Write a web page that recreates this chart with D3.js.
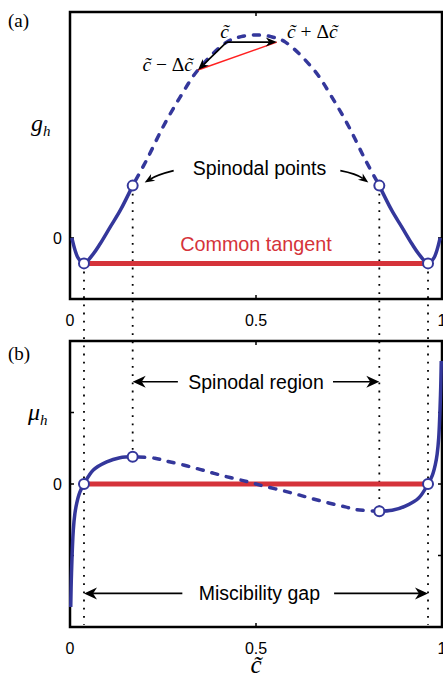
<!DOCTYPE html>
<html><head><meta charset="utf-8">
<script src="https://cdn.jsdelivr.net/npm/d3@7"></script>
<style>body{margin:0;background:#fff}svg{display:block}</style>
</head><body>
<script>
// composition axis ticks
const cTicks = [0, 0.5, 1];
const cTickLabels = ["0", "0.5", "1"];

// homogeneous free energy g_h(c)
const gC = [0.005, 0.0134, 0.0223, 0.0376, 0.0627, 0.0806, 0.1075, 0.135, 0.1685, 0.206, 0.25, 0.296, 0.344, 0.421, 0.46, 0.5,
            0.54, 0.579, 0.656, 0.704, 0.75, 0.794, 0.8315, 0.865, 0.8925, 0.9194, 0.9373, 0.9624, 0.9777, 0.9866, 0.995];
const gVal = [0, -0.059, -0.1, -0.125, -0.078, -0.03, 0.052, 0.135, 0.257, 0.383, 0.545, 0.692, 0.825, 0.962, 0.989, 0.997,
              0.989, 0.962, 0.825, 0.692, 0.545, 0.383, 0.257, 0.135, 0.052, -0.03, -0.078, -0.125, -0.1, -0.059, 0];

// chemical potential mu_h(c)
const muC = [0.002, 0.004, 0.0089, 0.013, 0.018, 0.026, 0.0376, 0.0626, 0.0987, 0.134, 0.1685, 0.228, 0.26, 0.305, 0.349,
             0.39, 0.43, 0.475, 0.5, 0.525, 0.57, 0.61, 0.651, 0.695, 0.74, 0.772, 0.8315, 0.866, 0.9013, 0.9374, 0.9624,
             0.974, 0.982, 0.987, 0.9911, 0.996, 0.998];
const muVal = [-1.72, -1.25, -0.64, -0.42, -0.27, -0.12, 0, 0.196, 0.31, 0.368, 0.38, 0.36, 0.32, 0.265, 0.205,
               0.145, 0.09, 0.035, 0, -0.035, -0.09, -0.145, -0.205, -0.265, -0.32, -0.36, -0.38, -0.368, -0.31, -0.196, 0,
               0.12, 0.27, 0.42, 0.64, 1.25, 1.72];

// binodal (common tangent) and spinodal compositions
const binodalC = [0.0376, 0.9624];
const binodalG = [-0.125, -0.125];
const spinodalC = [0.1685, 0.8315];
const spinodalG = [0.257, 0.257];
const spinodalMu = [0.38, -0.38];
const commonMu = 0;

// finite-difference construction: c - dc, c, c + dc
const fdC = [0.344, 0.421, 0.556];
const fdG = [0.825, 0.962, 0.962];

const W = 443, H = 684;
const blue = "#34379b", red = "#d5333a";

const svg = d3.select("body").append("svg").attr("width", W).attr("height", H);

const x = d3.scaleLinear().domain([0, 1]).range([70, 442]);
const yA = d3.scaleLinear().domain([-0.3, 1.11]).range([299, 12]);
const yB = d3.scaleLinear().domain([-2, 2]).range([627, 341]);

const gPts = gC.map((c, i) => [c, gVal[i]]);
const muPts = muC.map((c, i) => [c, muVal[i]]);
const lo = spinodalC[0], hi = spinodalC[1];

function drawCurve(pts, y) {
  const line = d3.line().x(d => x(d[0])).y(d => y(d[1])).curve(d3.curveCatmullRom.alpha(0.5));
  const left = pts.filter(d => d[0] <= lo + 1e-9);
  const mid = pts.filter(d => d[0] >= lo - 1e-9 && d[0] <= hi + 1e-9);
  const right = pts.filter(d => d[0] >= hi - 1e-9);
  [left, right].forEach(p => svg.append("path").attr("d", line(p))
    .attr("fill", "none").attr("stroke", blue).attr("stroke-width", 3.5));
  svg.append("path").attr("d", line(mid))
    .attr("fill", "none").attr("stroke", blue).attr("stroke-width", 3.5)
    .attr("stroke-linecap", "round").attr("stroke-dasharray", "6,9").attr("stroke-dashoffset", -6);
}

function frame(y, yTicks, yLabels) {
  const [y0, y1] = y.range();
  const g = svg.append("g");
  // ticks pointing inward on all four sides
  cTicks.forEach(t => {
    g.append("line").attr("x1", x(t)).attr("x2", x(t)).attr("y1", y0).attr("y2", y0 - 4).attr("stroke", "#000").attr("stroke-width", 1.5);
    g.append("line").attr("x1", x(t)).attr("x2", x(t)).attr("y1", y1).attr("y2", y1 + 4).attr("stroke", "#000").attr("stroke-width", 1.5);
  });
  yTicks.forEach(t => {
    g.append("line").attr("x1", x(0)).attr("x2", x(0) + 4).attr("y1", y(t)).attr("y2", y(t)).attr("stroke", "#000").attr("stroke-width", 1.5);
    g.append("line").attr("x1", x(1)).attr("x2", x(1) - 4).attr("y1", y(t)).attr("y2", y(t)).attr("stroke", "#000").attr("stroke-width", 1.5);
  });
  g.append("rect").attr("x", x(0)).attr("y", y1).attr("width", x(1) - x(0)).attr("height", y0 - y1)
    .attr("fill", "none").attr("stroke", "#000").attr("stroke-width", 2.5);
  yTicks.forEach((t, i) => {
    if (yLabels[i]) g.append("text").attr("x", x(0) - 8).attr("y", y(t)).attr("dy", "0.36em")
      .attr("text-anchor", "end").attr("font-family", "Liberation Sans, Arial, sans-serif").attr("font-size", 16).text(yLabels[i]);
  });
  cTicks.forEach((t, i) => {
    g.append("text").attr("x", x(t)).attr("y", y0 + 27).attr("text-anchor", "middle")
      .attr("font-family", "Liberation Sans, Arial, sans-serif").attr("font-size", 16).text(cTickLabels[i]);
  });
}

function arrowHead(tip, angle, len, wid) {
  const notch = len * 0.3;
  const p = [[0, 0], [-len, wid / 2], [-len + notch, 0], [-len, -wid / 2]];
  svg.append("path").attr("d", "M" + p.map(q => q.join(",")).join("L") + "Z")
    .attr("transform", `translate(${tip[0]},${tip[1]}) rotate(${angle * 180 / Math.PI})`)
    .attr("fill", "#000");
}

function straightArrow(from, to, len, wid, sw) {
  const a = Math.atan2(to[1] - from[1], to[0] - from[0]);
  const end = [to[0] - Math.cos(a) * len * 0.7, to[1] - Math.sin(a) * len * 0.7];
  svg.append("line").attr("x1", from[0]).attr("y1", from[1]).attr("x2", end[0]).attr("y2", end[1])
    .attr("stroke", "#000").attr("stroke-width", sw);
  arrowHead(to, a, len, wid);
}

function curvedArrow(from, ctrl, to, len, wid) {
  const a = Math.atan2(to[1] - ctrl[1], to[0] - ctrl[0]);
  const end = [to[0] - Math.cos(a) * len * 0.7, to[1] - Math.sin(a) * len * 0.7];
  svg.append("path").attr("d", `M${from[0]},${from[1]}Q${ctrl[0]},${ctrl[1]} ${end[0]},${end[1]}`)
    .attr("fill", "none").attr("stroke", "#000").attr("stroke-width", 1.6);
  arrowHead(to, a, len, wid);
}

// dotted guides linking the two panels
const dot = { stroke: "#000", "stroke-width": 1.8, "stroke-dasharray": "1.8,6.4" };
function dotted(x0, y0, y1) {
  const l = svg.append("line").attr("x1", x0).attr("x2", x0).attr("y1", y0).attr("y2", y1);
  Object.entries(dot).forEach(([k, v]) => l.attr(k, v));
}
binodalC.forEach(c => dotted(x(c), yA(binodalG[0]), yB.range()[0] - 2));
spinodalC.forEach((c, i) => dotted(x(c), yA(spinodalG[i]), yB(spinodalMu[i])));

// ---- panel (a): free energy ----
frame(yA, [0], ["0"]);
svg.append("line").attr("x1", x(binodalC[0])).attr("x2", x(binodalC[1]))
  .attr("y1", yA(binodalG[0])).attr("y2", yA(binodalG[1])).attr("stroke", red).attr("stroke-width", 5);
drawCurve(gPts, yA);

// secant between c - dc and c + dc
svg.append("line").attr("x1", x(fdC[0])).attr("y1", yA(fdG[0])).attr("x2", x(fdC[2])).attr("y2", yA(fdG[2]))
  .attr("stroke", "#ff2020").attr("stroke-width", 1.5);
straightArrow([x(fdC[1]), yA(fdG[1])], [x(fdC[0]), yA(fdG[0])], 11, 9, 1.6);
straightArrow([x(fdC[1]), yA(fdG[1])], [x(fdC[2]), yA(fdG[1])], 11, 9, 1.6);

const serif = "Liberation Serif, Times New Roman, serif";
function cLabel(xp, yp, anchor, parts) {
  const t = svg.append("text").attr("x", xp).attr("y", yp).attr("text-anchor", anchor)
    .attr("font-family", serif).attr("font-size", 19.5).attr("xml:space", "preserve");
  parts.forEach(p => t.append("tspan").attr("font-style", p[1] ? "italic" : "normal").text(p[0]));
}
cLabel(x(fdC[1]) - 2, 38, "middle", [["c\u0303", true]]);
cLabel(287, 38, "start", [["c\u0303", true], [" + \u0394", false], ["c\u0303", true]]);
cLabel(193, 71, "end", [["c\u0303", true], [" \u2212 \u0394", false], ["c\u0303", true]]);

spinodalC.forEach((c, i) => svg.append("circle").attr("cx", x(c)).attr("cy", yA(spinodalG[i])).attr("r", 5)
  .attr("fill", "#fff").attr("stroke", blue).attr("stroke-width", 2));
binodalC.forEach((c, i) => svg.append("circle").attr("cx", x(c)).attr("cy", yA(binodalG[i])).attr("r", 5)
  .attr("fill", "#fff").attr("stroke", blue).attr("stroke-width", 2));

const sans = "Liberation Sans, Arial, sans-serif";
svg.append("text").attr("x", 259.5).attr("y", 175).attr("text-anchor", "middle")
  .attr("font-family", sans).attr("font-size", 19.5).text("Spinodal points");
svg.append("text").attr("x", 256).attr("y", 250.5).attr("text-anchor", "middle")
  .attr("font-family", sans).attr("font-size", 19.8).attr("fill", red).text("Common tangent");

{
  const sl = [x(spinodalC[0]), yA(spinodalG[0])], sr = [x(spinodalC[1]), yA(spinodalG[1])];
  curvedArrow([sl[0] + 41, sl[1] - 15], [sl[0] + 25, sl[1] - 11], [sl[0] + 12, sl[1] - 3], 10, 8);
  curvedArrow([sr[0] - 39, sr[1] - 15], [sr[0] - 23, sr[1] - 12], [sr[0] - 11, sr[1] - 3], 10, 8);
}

// ---- panel (b): chemical potential ----
frame(yB, [-1, 0, 1], ["", "0", ""]);
svg.append("line").attr("x1", x(binodalC[0])).attr("x2", x(binodalC[1]))
  .attr("y1", yB(commonMu)).attr("y2", yB(commonMu)).attr("stroke", red).attr("stroke-width", 5);
drawCurve(muPts, yB);
spinodalC.forEach((c, i) => svg.append("circle").attr("cx", x(c)).attr("cy", yB(spinodalMu[i])).attr("r", 5)
  .attr("fill", "#fff").attr("stroke", blue).attr("stroke-width", 2));
binodalC.forEach(c => svg.append("circle").attr("cx", x(c)).attr("cy", yB(commonMu)).attr("r", 5)
  .attr("fill", "#fff").attr("stroke", blue).attr("stroke-width", 2));

const regionMu = 1.43, gapMu = -1.53;
svg.append("text").attr("x", x(0.5)).attr("y", yB(regionMu)).attr("dy", "0.36em").attr("text-anchor", "middle")
  .attr("font-family", sans).attr("font-size", 19.5).text("Spinodal region");
straightArrow([x(0.29), yB(regionMu)], [x(spinodalC[0]), yB(regionMu)], 13, 12, 1.6);
straightArrow([x(0.707), yB(regionMu)], [x(spinodalC[1]), yB(regionMu)], 13, 12, 1.6);

svg.append("text").attr("x", x(0.509)).attr("y", yB(gapMu)).attr("dy", "0.36em").attr("text-anchor", "middle")
  .attr("font-family", sans).attr("font-size", 19.5).text("Miscibility gap");
straightArrow([x(0.302), yB(gapMu)], [x(binodalC[0]), yB(gapMu)], 13, 12, 1.6);
straightArrow([x(0.71), yB(gapMu)], [x(binodalC[1]), yB(gapMu)], 13, 12, 1.6);

// panel tags and axis titles
svg.append("text").attr("x", 8).attr("y", 27).attr("font-family", serif).attr("font-size", 19).text("(a)");
svg.append("text").attr("x", 8).attr("y", 360).attr("font-family", serif).attr("font-size", 19).text("(b)");
{
  const t = svg.append("text").attr("x", 31).attr("y", 131).attr("font-family", serif).attr("font-size", 24).attr("font-style", "italic");
  t.append("tspan").text("g");
  t.append("tspan").attr("font-size", 15).attr("dy", 5).text("h");
  const m = svg.append("text").attr("x", 28).attr("y", 420).attr("font-family", serif).attr("font-size", 24).attr("font-style", "italic");
  m.append("tspan").text("\u03bc");
  m.append("tspan").attr("font-size", 15).attr("dy", 5).text("h");
}
svg.append("text").attr("x", x(0.5)).attr("y", 673).attr("text-anchor", "middle")
  .attr("font-family", serif).attr("font-size", 25).attr("font-style", "italic").text("c\u0303");
</script>
</body></html>
